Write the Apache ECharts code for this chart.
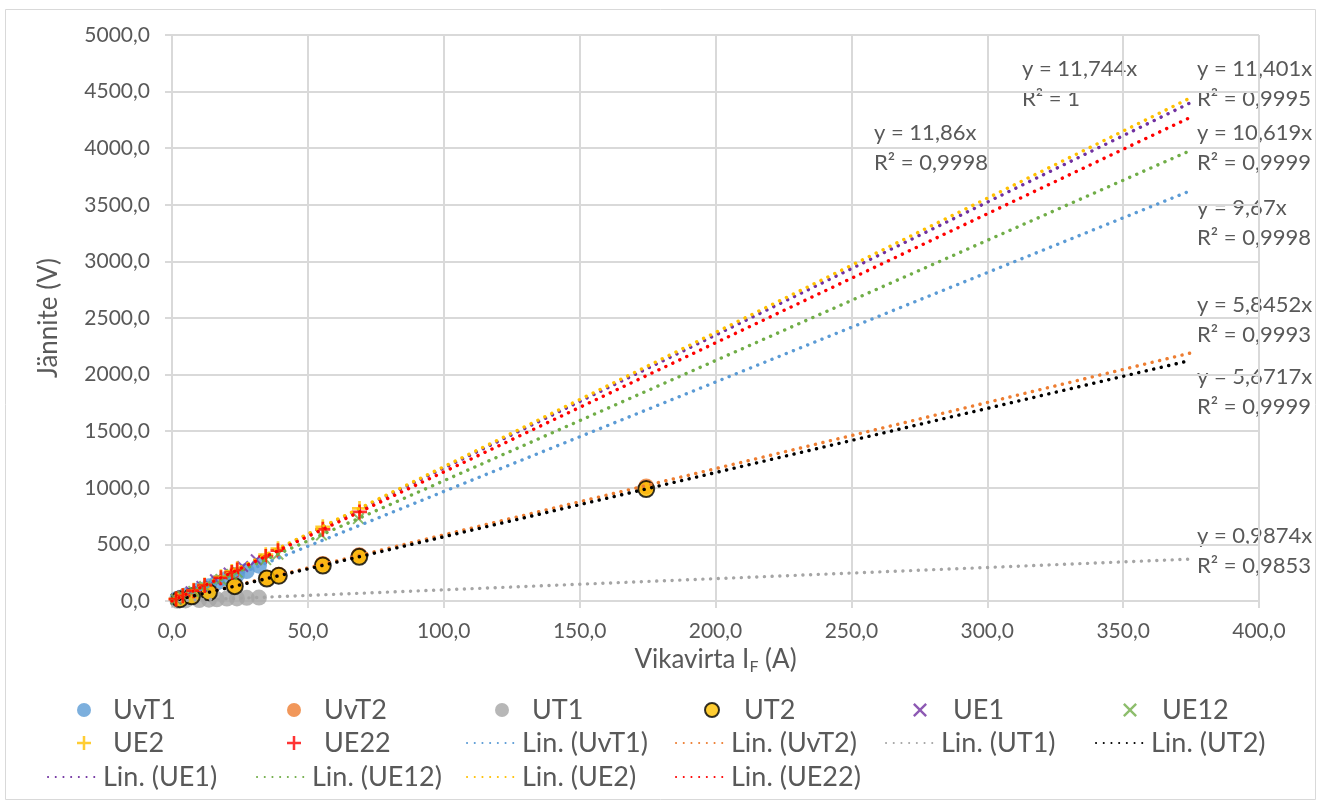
<!DOCTYPE html>
<html><head><meta charset="utf-8">
<script src="https://cdn.jsdelivr.net/npm/echarts@6.0.0/dist/echarts.min.js"></script>
<style>html,body{margin:0;padding:0;background:#fff}#c{width:1321px;height:802px}</style>
</head><body><div id="c"></div>
<script>
// ---- data ----
const uvT1 = [[2,20],[5,49],[10,96],[13.6,130],[16.5,162],[20.2,196],[23.9,232],[27.5,265],[32,312]];
const uvT2 = [[2.9,17],[7.3,43],[13.6,80],[23.1,136],[34.9,205],[39.3,231],[55.5,327],[68.9,404],[174.5,1012]];
const ut1  = [[2,2],[5,5],[10,9],[13.6,12],[16.5,15],[20.2,21],[23.9,23],[27.5,28],[32,30]];
const ut2  = [[2.9,16],[7.3,41],[13.6,77],[23.1,131],[34.9,198],[39.3,223],[55.5,313],[68.9,390],[174.5,989]];
const ue1  = [[1.5,18],[4,47],[7,82],[11,129],[16,188],[21,247],[26,305],[31,364]];
const ue12 = [[1.5,16],[4,42],[8,85],[12,127],[18,191],[22,234],[24,255],[34.5,366],[39,414],[55,584],[68.6,728]];
const ue2  = [[1.5,18],[4,48],[8,95],[12,142],[18,214],[22,261],[24,285],[34.5,409],[39,462],[55.5,656],[69,818]];
const ue22 = [[1.5,17],[4,46],[8,91],[12,137],[18,205],[22,251],[24,274],[34.5,393],[39,445],[55.5,633],[69,787]];

const seriesNames = ['UvT1','UvT2','UT1','UT2','UE1','UE12','UE2','UE22'];
const seriesData  = [uvT1, uvT2, ut1, ut2, ue1, ue12, ue2, ue22];
const trendSlopes = [9.67, 5.8452, 0.9874, 5.6717, 11.744, 10.619, 11.86, 11.401];
const trendR2     = ['0,9998','0,9993','0,9853','0,9999','1','0,9999','0,9998','0,9995'];
const trendEndX   = 375;

const xTicks = [0,50,100,150,200,250,300,350,400];
const yTicks = [0,500,1000,1500,2000,2500,3000,3500,4000,4500,5000];

// ---- styling ----
const FONT = 'Lato';
const TXT = '#595959';
const GRIDC = '#D9D9D9';
const colors = ['#5B9BD5','#ED7D31','#A5A5A5','#FFC000','#7030A0','#70AD47','#FFC000','#FF0000'];
const trendColors = ['#5B9BD5','#ED7D31','#A5A5A5','#000000','#7030A0','#70AD47','#FFC000','#FF0000'];
const PLUS = 'path://M4.1,0H5.9V4.1H10V5.9H5.9V10H4.1V5.9H0V4.1H4.1Z';
const CROSS = 'path://M0,1.2L1.2,0L5,3.8L8.8,0L10,1.2L6.2,5L10,8.8L8.8,10L5,6.2L1.2,10L0,8.8L3.8,5Z';
const markerSymbol = ['circle','circle','circle','circle',CROSS,CROSS,PLUS,PLUS];
const markerSize = [16,16,16,16,12,12,15,15];

const fmt = v => v.toFixed(1).replace('.', ',');
const fmtSlope = s => String(s).replace('.', ',');

const series = [];
seriesNames.forEach((n, i) => {
  series.push({
    name: n, type: 'scatter', data: seriesData[i],
    symbol: markerSymbol[i], symbolSize: markerSize[i],
    itemStyle: i === 3 ? {color: colors[i], borderColor: '#000', borderWidth: 2} : {color: colors[i]},
    emphasis: {disabled: true}
  });
});
seriesNames.forEach((n, i) => {
  series.push({
    name: 'Lin. (' + n + ')', type: 'line',
    data: [[0, 0], [trendEndX, trendSlopes[i] * trendEndX]],
    showSymbol: false, symbol: 'none',
    lineStyle: {color: trendColors[i], width: 3.4, type: [0.1, 7.6], cap: 'round'},
    itemStyle: {color: trendColors[i]},
    emphasis: {disabled: true}, silent: true
  });
});

// legend layout: 6 columns x 3 rows (icon centre / text start x per entry)
const legendOrder = ['UvT1','UvT2','UT1','UT2','UE1','UE12',
  'UE2','UE22','Lin. (UvT1)','Lin. (UvT2)','Lin. (UT1)','Lin. (UT2)',
  'Lin. (UE1)','Lin. (UE12)','Lin. (UE2)','Lin. (UE22)'];
const markerIconX = [84, 294, 502, 711, 920, 1130];
const markerTextX = [122, 333, 541, 752, 962, 1171];
const lineStartX  = [47, 256, 466, 675, 885, 1095];
const rowCenter = [710, 743, 777];
const legends = legendOrder.map((name, k) => {
  const isLine = name.indexOf('Lin.') === 0;
  const col = k % 6;
  const cy = rowCenter[Math.floor(k / 6)];
  const base = {
    data: [name], orient: 'horizontal', top: cy - 16,
    padding: 0, itemHeight: 14, itemGap: 0, selectedMode: false
  };
  if (isLine) {
    base.left = lineStartX[col];
    base.itemWidth = 52;
    base.itemStyle = {opacity: 0};
    base.textStyle = {fontFamily: FONT, fontSize: 27, color: TXT, lineHeight: 32,
      padding: [0, 0, 0, -2]};
  } else {
    base.left = markerIconX[col] - 7;
    base.itemWidth = 14;
    base.textStyle = {fontFamily: FONT, fontSize: 27, color: TXT, lineHeight: 32,
      padding: [0, 0, 0, markerTextX[col] - markerIconX[col] - 21]};
  }
  return base;
});

// trendline equation labels
const labelPos = [[1197,208],[1197,305],[1197,536],[1197,377],[1022,69],[1197,133],[874,133],[1197,69]];
const graphics = [{type:'rect', shape:{x:5.5, y:9.5, width:1310, height:790},
  style:{fill:'none', stroke:GRIDC, lineWidth:1}, silent:true}];
trendSlopes.forEach((s, i) => {
  graphics.push({type:'text', x: labelPos[i][0], y: labelPos[i][1],
    style:{text: 'y = ' + fmtSlope(s) + 'x', fill: TXT, font: '22px ' + FONT, verticalAlign:'middle'}});
  graphics.push({type:'text', x: labelPos[i][0], y: labelPos[i][1] + 30,
    style:{text: 'R\u00B2 = ' + trendR2[i], fill: TXT, font: '22px ' + FONT, verticalAlign:'middle'}});
});

const chart = echarts.init(document.getElementById('c'), null, {renderer: 'canvas'});
chart.setOption({
  animation: false,
  backgroundColor: '#fff',
  grid: {left: 172, right: 62, top: 35, bottom: 201, containLabel: false},
  xAxis: {
    type: 'value', min: xTicks[0], max: xTicks[xTicks.length-1], interval: xTicks[1]-xTicks[0],
    name: 'Vikavirta I{sub|F} (A)', nameLocation: 'middle', nameGap: 44,
    nameTextStyle: {fontFamily: FONT, fontSize: 26, color: TXT,
      rich: {sub: {fontFamily: FONT, fontSize: 16, color: TXT, padding: [14,0,0,0]}}},
    axisLine: {show: true, lineStyle: {color: GRIDC, width: 2}},
    axisTick: {show: true, inside: false, length: 7, lineStyle: {color: GRIDC, width: 2}},
    splitLine: {show: true, lineStyle: {color: GRIDC, width: 2}},
    axisLabel: {fontFamily: FONT, fontSize: 21, color: TXT, margin: 20, formatter: v => fmt(v)}
  },
  yAxis: {
    type: 'value', min: yTicks[0], max: yTicks[yTicks.length-1], interval: yTicks[1]-yTicks[0],
    name: 'Jännite (V)', nameLocation: 'middle', nameGap: 110, nameRotate: 90,
    nameTextStyle: {fontFamily: FONT, fontSize: 26, color: TXT},
    axisLine: {show: true, lineStyle: {color: GRIDC, width: 2}},
    axisTick: {show: true, inside: false, length: 7, lineStyle: {color: GRIDC, width: 2}},
    splitLine: {show: true, lineStyle: {color: GRIDC, width: 2}},
    axisLabel: {fontFamily: FONT, fontSize: 21, color: TXT, margin: 22, formatter: v => fmt(v)}
  },
  legend: legends,
  graphic: graphics,
  series: series
});
</script></body></html>
